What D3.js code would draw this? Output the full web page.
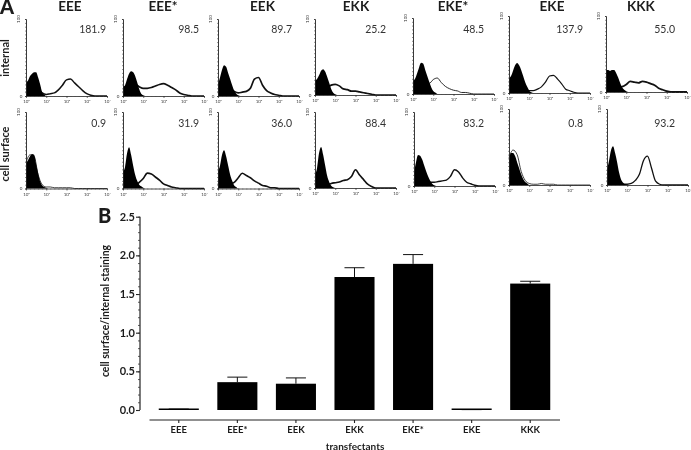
<!DOCTYPE html>
<html><head><meta charset="utf-8">
<script src="https://cdnjs.cloudflare.com/ajax/libs/d3/7.8.5/d3.min.js"></script>
<style>
html,body{margin:0;padding:0;background:#fff}
svg{display:block;filter:blur(0.35px)}
text{font-family:Lato,"Open Sans",sans-serif;fill:#1c1c1c}
</style></head><body><svg id="c" width="691" height="450"></svg>
<script>
// ---------- data ----------
const categories = ["EEE","EEE*","EEK","EKK","EKE*","EKE","KKK"];
const internalMFI = ["181.9","98.5","89.7","25.2","48.5","137.9","55.0"];
const surfaceMFI  = ["0.9","31.9","36.0","88.4","83.2","0.8","93.2"];
const ratioValues = [0.012,0.36,0.34,1.72,1.89,0.005,1.635];
const ratioErrTop = [0.012,0.425,0.415,1.84,2.01,0.005,1.665];
const yTicksMajor = [0,0.5,1,1.5,2,2.5];
const decades = [0,1,2,3,4];
const decadeLabels = ["10⁰","10¹","10²","10³","10⁴"];

// isotype-control histograms (filled), sampled every 0.1 decade
const fillIntEEE  = [17,20,26,29,31,31,24,15,5,2,0,0,0];
const fillIntEEEs = [12,14,22,29,32,31,26,18,9,3,1,0,0];
const fillIntEEK  = [15,24,34,40,38,30,22,14,7,3,1,0,0];
const fillIntEKK  = [19,21,26,32,34,31,24,16,8,3,1,0,0];
const fillIntEKEs = [17,20,27,35,41,40,32,24,16,9,4,2,0];
const fillIntEKE  = [19,22,29,36,39,36,30,22,14,8,3,1,0];
const fillIntKKK  = [29,29,28,29,29,25,19,12,6,3,1,0,0];
const fillSurEEE  = [33,37,42,45,44,32,20,9,4,2,1,0,0];
const fillSurEEEs = [22,28,46,54,44,30,18,10,5,3,1,0,0];
const fillSurEEK  = [22,30,44,50,42,30,18,10,4,2,0,0,0];
const fillSurEKK  = [18,26,46,54,44,30,16,8,3,1,0,0,0];
const fillSurEKEs = [18,32,42,41,36,28,20,13,7,3,1,0,0];
const fillSurEKE  = [34,42,42,38,30,22,14,8,4,2,0,0,0];
const fillSurKKK  = [20,32,46,51,42,30,16,7,3,1,0,0,0];

// antibody-stained histograms (outline), sampled every 0.2 decade
const lineIntEEE  = [5,10,15,10,4,2,3,4,8,14,21,22,17,12,7,3,1,0,0,0,0];
const lineIntEEEs = [5,10,15,15,12,10,10,11,13,15,16,14,11,8,4,2,1,0,0,0,0];
const lineIntEEK  = [5,10,15,10,6,4,5,6,10,22,24,14,7,4,2,1,0,0,0,0,0];
const lineIntEKK  = [5,10,15,10,13,14,12,8,7,5,5,4,3,2,1,0,0,0,0,0,0];
const lineIntEKEs = [5,10,15,14,14,19,21,15,10,7,5,4,2,2,1,0,0,0,0,0,0];
const lineIntEKE  = [5,10,15,10,4,3,3,5,8,14,22,23,18,12,5,3,1,0,0,0,0];
const lineIntKKK  = [5,10,12,6,7,10,14,13,12,14,13,11,9,5,3,1,0,0,0,0,0];
const lineSurEEE  = [34,44,42,18,5,2,2,1,1,1,1,1,0,0,0,0,0,0,0,0,0];
const lineSurEEEs = [5,10,10,4,8,13,20,19,15,11,6,4,2,1,0,0,0,0,0,0,0];
const lineSurEEK  = [5,10,10,6,8,14,20,17,14,10,7,4,3,1,1,0,0,0,0,0,0];
const lineSurEKK  = [5,10,10,4,6,7,8,10,11,15,24,17,11,5,2,0,0,0,0,0,0];
const lineSurEKEs = [5,10,10,4,5,5,6,7,8,13,22,19,11,5,3,1,0,0,0,0,0];
const lineSurEKE  = [36,46,40,18,6,2,1,1,2,1,1,1,0,0,0,0,0,0,0,0,0];
const lineSurKKK  = [5,10,10,3,1,1,2,6,14,32,38,22,5,1,0,0,0,0,0,0,0];

const fillRows = [
  [fillIntEEE,fillIntEEEs,fillIntEEK,fillIntEKK,fillIntEKEs,fillIntEKE,fillIntKKK],
  [fillSurEEE,fillSurEEEs,fillSurEEK,fillSurEKK,fillSurEKEs,fillSurEKE,fillSurKKK]];
const lineRows = [
  [lineIntEEE,lineIntEEEs,lineIntEEK,lineIntEKK,lineIntEKEs,lineIntEKE,lineIntKKK],
  [lineSurEEE,lineSurEEEs,lineSurEEK,lineSurEKK,lineSurEKEs,lineSurEKE,lineSurKKK]];

// ---------- layout ----------
const panelLeft  = [[26,123,218,315,413,509,606],[26,123,218,315,414,509,607]];
const panelBase  = [[96,96,96,95,94,93,92],[188.5,188.5,188.5,188,186,185,185]];
const panelTop   = [[19,19,19,19,18,16,16],[112,112,112,112,112,109,109]];
const panelW = 81;
const headerX = [70,163,262.5,356,453,552,641];
const valueEnd = [[106,199,292,386,484,583,675],[106,199,292,386,484,583,675]];
const valueY = [29,123];
const strokes = [[1.5,1.7,1.7,1.7,0.9,1.2,1.8],[0.8,1.7,1.6,1.6,1.4,0.8,1.3]];

const svg = d3.select("#c");

categories.forEach((c,i)=>{
  svg.append("text").attr("x",headerX[i]).attr("y",11).attr("text-anchor","middle")
     .attr("font-size",13.5).attr("font-weight",700).text(c);
});
svg.append("text").attr("x",0).attr("y",14).attr("font-size",20).attr("font-weight",900).text("A");
svg.append("text").attr("x",98).attr("y",223).attr("font-size",20).attr("font-weight",900).text("B");
[["internal",58],["cell surface",154]].forEach(([t,y])=>{
  svg.append("text").attr("transform",`translate(9,${y}) rotate(-90)`).attr("text-anchor","middle")
     .attr("font-size",11).attr("font-weight",700).text(t);
});

[0,1].forEach(r=>{
  categories.forEach((c,i)=>{
    const x0=panelLeft[r][i], base=panelBase[r][i], top=panelTop[r][i];
    const x=d3.scaleLinear().domain([0,4]).range([x0,x0+panelW]);
    const y=d3.scaleLinear().domain([0,100]).range([base,top]);
    const g=svg.append("g");
    const line=d3.line().x((d,k)=>x(k*0.2)).y(d=>y(d)).curve(d3.curveMonotoneX);
    g.append("path").attr("d",line(lineRows[r][i])).attr("fill","none")
     .attr("stroke","#111").attr("stroke-width",strokes[r][i]);
    const area=d3.area().x((d,k)=>x(k*0.1)).y0(base).y1(d=>y(d)).curve(d3.curveMonotoneX);
    g.append("path").attr("d",area(fillRows[r][i])).attr("fill","#000");

    const minor=d3.range(0,4.001,0.2);
    const ax=d3.axisBottom(x).tickValues(minor).tickSize(1).tickFormat("");
    const gx=g.append("g").attr("transform",`translate(0,${base})`).call(ax);
    gx.selectAll("path").attr("stroke","#222").attr("stroke-width",0.8);
    gx.selectAll("line").attr("stroke","#444").attr("stroke-width",0.6);
    const ax2=d3.axisBottom(x).tickValues(decades).tickSize(2).tickFormat((d,k)=>decadeLabels[k]);
    const gx2=g.append("g").attr("transform",`translate(0,${base})`).call(ax2);
    gx2.select("path").remove();
    gx2.selectAll("line").attr("stroke","#333").attr("stroke-width",0.7);
    gx2.selectAll("text").attr("font-size",4.5).attr("dy",0).attr("y",7).style("fill","#444");

    const ay=d3.axisLeft(y).tickValues(d3.range(0,101,5)).tickSize(1).tickFormat("");
    const gy=g.append("g").attr("transform",`translate(${x0},0)`).call(ay);
    gy.selectAll("path").attr("stroke","#222").attr("stroke-width",0.9);
    gy.selectAll("line").attr("stroke","#444").attr("stroke-width",0.6);
    g.append("text").attr("transform",`translate(${x0-6},${top}) rotate(-90)`)
     .attr("text-anchor","middle").attr("font-size",4.5).style("fill","#333").text("100");
    g.append("text").attr("x",x0-5).attr("y",base+1.5).attr("text-anchor","middle")
     .attr("font-size",4.5).style("fill","#333").text("0");

    svg.append("text").attr("x",valueEnd[r][i]).attr("y",valueY[r]+3.7)
      .attr("text-anchor","end").attr("font-size",10.5).style("fill","#333")
      .text(r===0?internalMFI[i]:surfaceMFI[i]);
  });
});

// ---------- bar chart ----------
const xB=d3.scaleBand().domain(categories).range([149.5,559.5]).paddingInner(0.316).paddingOuter(0.158);
const yB=d3.scaleLinear().domain([0,2.5]).range([410,216.7]);
const bars=svg.append("g");
categories.forEach((c,i)=>{
  const cx=xB(c)+xB.bandwidth()/2;
  const capW=xB.bandwidth()/2;
  bars.append("line").attr("x1",cx).attr("x2",cx).attr("y1",yB(ratioValues[i])).attr("y2",yB(ratioErrTop[i]))
      .attr("stroke","#111").attr("stroke-width",1);
  bars.append("line").attr("x1",cx-capW/2).attr("x2",cx+capW/2).attr("y1",yB(ratioErrTop[i])).attr("y2",yB(ratioErrTop[i]))
      .attr("stroke","#111").attr("stroke-width",1);
  const h=Math.max(yB(0)-yB(ratioValues[i]),1.5);
  bars.append("rect").attr("x",xB(c)).attr("width",xB.bandwidth()).attr("y",yB(0)-h).attr("height",h).attr("fill","#000");
});
const gyB=svg.append("g").attr("transform","translate(140,0)")
  .call(d3.axisLeft(yB).tickValues(yTicksMajor).tickSize(4).tickFormat(d3.format(".1f")));
gyB.selectAll("path").attr("stroke","#222").attr("stroke-width",1.2).attr("d","M0,216.7V410");
gyB.selectAll("line").attr("stroke","#222").attr("stroke-width",1.1);
gyB.selectAll("text").attr("font-size",11).attr("font-weight",700).attr("x",-5);
const gyMinor=svg.append("g").attr("transform","translate(140,0)")
  .call(d3.axisLeft(yB).tickValues(d3.range(0,2.501,0.1)).tickSize(2).tickFormat(""));
gyMinor.select("path").remove();
gyMinor.selectAll("line").attr("stroke","#333").attr("stroke-width",0.8);

const gxB=svg.append("g").attr("transform","translate(0,420)")
  .call(d3.axisBottom(xB).tickSize(3).tickPadding(3));
gxB.selectAll("path").attr("stroke","#222").attr("stroke-width",1.2).attr("d","M149.5,0H560");
gxB.selectAll("line").attr("stroke","#222").attr("stroke-width",1.1);
gxB.selectAll("text").attr("font-size",9.5).attr("font-weight",700);

svg.append("text").attr("x",355).attr("y",449.5).attr("text-anchor","middle")
   .attr("font-size",10).attr("font-weight",700).text("transfectants");
svg.append("text").attr("transform","translate(109,311) rotate(-90)").attr("text-anchor","middle")
   .attr("font-size",10.5).attr("font-weight",700).text("cell surface/internal staining");
</script></body></html>
